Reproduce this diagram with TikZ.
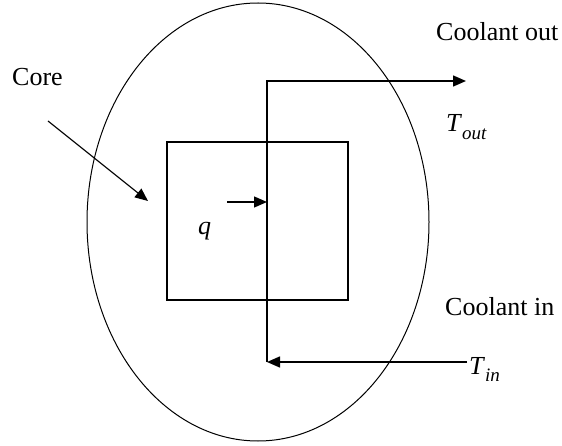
\documentclass[tikz,border=0pt]{standalone}
\usepackage{fontspec}
\setmainfont{Liberation Serif}
\usetikzlibrary{arrows.meta}
\tikzset{
  lbl/.style={anchor=base west, inner sep=0pt, font=\fontsize{26}{30}\selectfont},
  flow/.style={line width=1.5pt, draw=black},
  tip/.style={-{Triangle[length=13pt,width=11pt]}},
  thin/.style={line width=1pt, draw=black}
}
\newcommand{\mysub}[1]{\raisebox{-0.28em}{\fontsize{19}{21}\selectfont\textit{#1}}}
\begin{document}
\begin{tikzpicture}[x=1pt,y=-1pt]
\useasboundingbox (0,0) rectangle (562,446);
% reactor vessel
\draw[thin] (258,222) ellipse [x radius=171, y radius=219];
% core
\draw[flow] (167,142) rectangle (348,300);
% coolant path
\coordinate (top) at (267,81);
\coordinate (bot) at (267,362);
\coordinate (outend) at (466,81);
\coordinate (inend) at (467,362);
\draw[flow,tip] (bot) -- (top) -- (outend);
\draw[flow,tip] (inend) -- (bot);
% labels
\node[lbl] (core) at (12,86) {Core};
\node[lbl] (cout) at (436,41) {Coolant out};
\node[lbl] (cin) at (445,315) {Coolant in};
\node[lbl] (tout) at (446,132) {\textit{T}\mysub{out}};
\node[lbl] (tin) at (469,374) {\textit{T}\mysub{in}};
\node[lbl] (q) at (198,235) {\textit{q}};
% core pointer
\coordinate (cs) at (48,121);
\coordinate (ce) at (148,201);
\draw[line width=1.1pt,tip] (cs) -- (ce);
% heat flux arrow
\coordinate (qs) at (227,202);
\coordinate (qe) at (267,202);
\draw[line width=1.3pt,tip] (qs) -- (qe);
\end{tikzpicture}
\end{document}
